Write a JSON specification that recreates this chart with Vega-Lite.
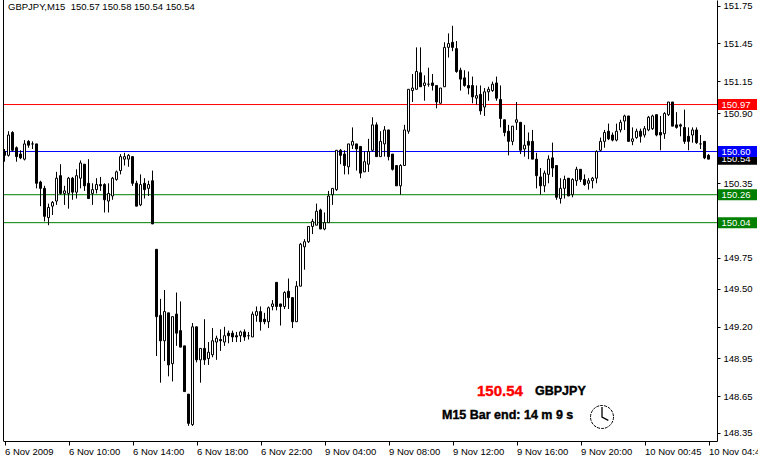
{"$schema":"https://vega.github.io/schema/vega-lite/v6.json","width":714,"height":441,"autosize":{"type":"none"},"padding":{"left":3,"top":0,"right":41,"bottom":17},"background":"white","view":{"stroke":null},
"config":{"axis":{"labelOverlap":false},"axisY":{"labelOverlap":false}},
"datasets":{
"levels":[{"level":"150.97","price":150.97,"kind":"upper"},{"level":"150.60","price":150.60,"kind":"pivot"},{"level":"150.26","price":150.26,"kind":"lower"},{"level":"150.04","price":150.04,"kind":"lower"}],
"closeFlag":[{"level":"150.54","price":150.54,"kind":"close"}],
"header":[{"bar":0.875,"price":151.738,"label":"GBPJPY,M15\u00a0\u00a0150.57 150.58 150.54 150.54"}],
"price":[{"bar":118.125,"price":148.715,"label":"150.54"}],
"sym":[{"bar":132.625,"price":148.715,"label":"GBPJPY"},{"bar":109.375,"price":148.526,"label":"M15 Bar end: 14 m 9 s"}],
"clock":[{"bar":149.375,"price":148.51}],
"candles":[
{"bar":0,"open":150.6,"high":150.62,"low":150.52,"close":150.57},
{"bar":1,"open":150.57,"high":150.76,"low":150.56,"close":150.73},
{"bar":2,"open":150.75,"high":150.76,"low":150.6,"close":150.61},
{"bar":3,"open":150.63,"high":150.64,"low":150.52,"close":150.56},
{"bar":4,"open":150.58,"high":150.61,"low":150.54,"close":150.55},
{"bar":5,"open":150.54,"high":150.69,"low":150.53,"close":150.66},
{"bar":6,"open":150.68,"high":150.69,"low":150.63,"close":150.65},
{"bar":7,"open":150.66,"high":150.68,"low":150.62,"close":150.66},
{"bar":8,"open":150.66,"high":150.66,"low":150.31,"close":150.35},
{"bar":9,"open":150.36,"high":150.37,"low":150.17,"close":150.31},
{"bar":10,"open":150.31,"high":150.33,"low":150.05,"close":150.09},
{"bar":11,"open":150.08,"high":150.19,"low":150.02,"close":150.16},
{"bar":12,"open":150.17,"high":150.21,"low":150.1,"close":150.2},
{"bar":13,"open":150.21,"high":150.44,"low":150.18,"close":150.39},
{"bar":14,"open":150.41,"high":150.5,"low":150.26,"close":150.27},
{"bar":15,"open":150.27,"high":150.33,"low":150.18,"close":150.29},
{"bar":16,"open":150.27,"high":150.4,"low":150.15,"close":150.39},
{"bar":17,"open":150.39,"high":150.4,"low":150.22,"close":150.28},
{"bar":18,"open":150.28,"high":150.46,"low":150.23,"close":150.41},
{"bar":19,"open":150.39,"high":150.53,"low":150.31,"close":150.51},
{"bar":20,"open":150.5,"high":150.5,"low":150.29,"close":150.33},
{"bar":21,"open":150.35,"high":150.54,"low":150.23,"close":150.23},
{"bar":22,"open":150.27,"high":150.35,"low":150.18,"close":150.3},
{"bar":23,"open":150.3,"high":150.39,"low":150.27,"close":150.34},
{"bar":24,"open":150.34,"high":150.4,"low":150.29,"close":150.33},
{"bar":25,"open":150.34,"high":150.35,"low":150.12,"close":150.22},
{"bar":26,"open":150.21,"high":150.35,"low":150.12,"close":150.27},
{"bar":27,"open":150.25,"high":150.4,"low":150.22,"close":150.39},
{"bar":28,"open":150.38,"high":150.45,"low":150.37,"close":150.44},
{"bar":29,"open":150.45,"high":150.58,"low":150.42,"close":150.56},
{"bar":30,"open":150.54,"high":150.59,"low":150.49,"close":150.56},
{"bar":31,"open":150.54,"high":150.58,"low":150.48,"close":150.57},
{"bar":32,"open":150.56,"high":150.56,"low":150.33,"close":150.35},
{"bar":33,"open":150.35,"high":150.37,"low":150.17,"close":150.17},
{"bar":34,"open":150.18,"high":150.42,"low":150.17,"close":150.34},
{"bar":35,"open":150.35,"high":150.39,"low":150.23,"close":150.3},
{"bar":36,"open":150.31,"high":150.37,"low":150.25,"close":150.34},
{"bar":37,"open":150.37,"high":150.45,"low":150.03,"close":150.03},
{"bar":38,"open":149.83,"high":149.83,"low":148.99,"close":149.3},
{"bar":39,"open":149.31,"high":149.44,"low":148.78,"close":149.11},
{"bar":40,"open":149.11,"high":149.51,"low":148.95,"close":149.34},
{"bar":41,"open":149.33,"high":149.33,"low":148.83,"close":148.92},
{"bar":42,"open":148.93,"high":149.3,"low":148.79,"close":149.3},
{"bar":43,"open":149.32,"high":149.49,"low":149.07,"close":149.17},
{"bar":44,"open":149.19,"high":149.42,"low":149.06,"close":149.06},
{"bar":45,"open":149.07,"high":149.07,"low":148.71,"close":148.71},
{"bar":46,"open":148.69,"high":148.69,"low":148.44,"close":148.46},
{"bar":47,"open":148.45,"high":149.25,"low":148.44,"close":149.22},
{"bar":48,"open":149.22,"high":149.22,"low":148.94,"close":148.96},
{"bar":49,"open":148.96,"high":149.05,"low":148.78,"close":149.05},
{"bar":50,"open":149.05,"high":149.28,"low":148.92,"close":148.96},
{"bar":51,"open":148.97,"high":149.1,"low":148.92,"close":149.02},
{"bar":52,"open":149.0,"high":149.21,"low":148.98,"close":149.11},
{"bar":53,"open":149.1,"high":149.15,"low":148.96,"close":149.13},
{"bar":54,"open":149.12,"high":149.2,"low":149.03,"close":149.11},
{"bar":55,"open":149.1,"high":149.22,"low":149.07,"close":149.15},
{"bar":56,"open":149.17,"high":149.19,"low":149.09,"close":149.15},
{"bar":57,"open":149.17,"high":149.19,"low":149.1,"close":149.14},
{"bar":58,"open":149.15,"high":149.18,"low":149.1,"close":149.14},
{"bar":59,"open":149.15,"high":149.19,"low":149.1,"close":149.18},
{"bar":60,"open":149.18,"high":149.2,"low":149.11,"close":149.14},
{"bar":61,"open":149.15,"high":149.18,"low":149.12,"close":149.15},
{"bar":62,"open":149.14,"high":149.34,"low":149.14,"close":149.32},
{"bar":63,"open":149.31,"high":149.38,"low":149.26,"close":149.34},
{"bar":64,"open":149.34,"high":149.38,"low":149.19,"close":149.26},
{"bar":65,"open":149.28,"high":149.33,"low":149.24,"close":149.26},
{"bar":66,"open":149.26,"high":149.38,"low":149.21,"close":149.37},
{"bar":67,"open":149.38,"high":149.43,"low":149.35,"close":149.4},
{"bar":68,"open":149.57,"high":149.57,"low":149.35,"close":149.38},
{"bar":69,"open":149.4,"high":149.4,"low":149.23,"close":149.38},
{"bar":70,"open":149.38,"high":149.5,"low":149.36,"close":149.49},
{"bar":71,"open":149.5,"high":149.6,"low":149.36,"close":149.45},
{"bar":72,"open":149.45,"high":149.45,"low":149.21,"close":149.26},
{"bar":73,"open":149.26,"high":149.58,"low":149.26,"close":149.54},
{"bar":74,"open":149.54,"high":149.88,"low":149.54,"close":149.87},
{"bar":75,"open":149.85,"high":149.91,"low":149.67,"close":149.89},
{"bar":76,"open":149.89,"high":150.01,"low":149.88,"close":150.01},
{"bar":77,"open":150.01,"high":150.07,"low":149.95,"close":150.05},
{"bar":78,"open":150.02,"high":150.19,"low":150.02,"close":150.13},
{"bar":79,"open":150.14,"high":150.15,"low":149.99,"close":149.99},
{"bar":80,"open":149.99,"high":150.12,"low":149.98,"close":150.04},
{"bar":81,"open":150.04,"high":150.29,"low":150.04,"close":150.25},
{"bar":82,"open":150.26,"high":150.31,"low":150.18,"close":150.31},
{"bar":83,"open":150.3,"high":150.61,"low":150.29,"close":150.61},
{"bar":84,"open":150.61,"high":150.62,"low":150.5,"close":150.57},
{"bar":85,"open":150.58,"high":150.61,"low":150.42,"close":150.49},
{"bar":86,"open":150.48,"high":150.66,"low":150.42,"close":150.66},
{"bar":87,"open":150.65,"high":150.79,"low":150.62,"close":150.68},
{"bar":88,"open":150.66,"high":150.66,"low":150.45,"close":150.62},
{"bar":89,"open":150.64,"high":150.64,"low":150.39,"close":150.43},
{"bar":90,"open":150.44,"high":150.6,"low":150.44,"close":150.52},
{"bar":91,"open":150.5,"high":150.7,"low":150.44,"close":150.6},
{"bar":92,"open":150.61,"high":150.87,"low":150.6,"close":150.81},
{"bar":93,"open":150.81,"high":150.83,"low":150.56,"close":150.56},
{"bar":94,"open":150.56,"high":150.76,"low":150.56,"close":150.68},
{"bar":95,"open":150.66,"high":150.8,"low":150.56,"close":150.77},
{"bar":96,"open":150.77,"high":150.77,"low":150.53,"close":150.56},
{"bar":97,"open":150.58,"high":150.58,"low":150.45,"close":150.46},
{"bar":98,"open":150.49,"high":150.49,"low":150.33,"close":150.33},
{"bar":99,"open":150.33,"high":150.5,"low":150.26,"close":150.49},
{"bar":100,"open":150.49,"high":150.81,"low":150.49,"close":150.77},
{"bar":101,"open":150.76,"high":151.09,"low":150.74,"close":151.09},
{"bar":102,"open":151.08,"high":151.21,"low":150.99,"close":151.1},
{"bar":103,"open":151.09,"high":151.42,"low":151.09,"close":151.23},
{"bar":104,"open":151.22,"high":151.42,"low":151.11,"close":151.11},
{"bar":105,"open":151.12,"high":151.2,"low":151.0,"close":151.14},
{"bar":106,"open":151.13,"high":151.26,"low":151.11,"close":151.13},
{"bar":107,"open":151.14,"high":151.21,"low":151.08,"close":151.12},
{"bar":108,"open":151.12,"high":151.12,"low":150.94,"close":150.99},
{"bar":109,"open":150.98,"high":151.1,"low":150.98,"close":151.1},
{"bar":110,"open":151.11,"high":151.46,"low":151.11,"close":151.42},
{"bar":111,"open":151.42,"high":151.53,"low":151.34,"close":151.45},
{"bar":112,"open":151.46,"high":151.59,"low":151.39,"close":151.42},
{"bar":113,"open":151.41,"high":151.47,"low":151.22,"close":151.23},
{"bar":114,"open":151.24,"high":151.26,"low":151.08,"close":151.17},
{"bar":115,"open":151.18,"high":151.24,"low":151.11,"close":151.12},
{"bar":116,"open":151.12,"high":151.23,"low":151.05,"close":151.1},
{"bar":117,"open":151.12,"high":151.19,"low":150.98,"close":151.03},
{"bar":118,"open":151.02,"high":151.12,"low":150.97,"close":151.04},
{"bar":119,"open":151.05,"high":151.12,"low":150.89,"close":150.92},
{"bar":120,"open":150.95,"high":151.1,"low":150.88,"close":151.07},
{"bar":121,"open":151.07,"high":151.11,"low":151.0,"close":151.09},
{"bar":122,"open":151.08,"high":151.15,"low":151.07,"close":151.13},
{"bar":123,"open":151.14,"high":151.19,"low":151.0,"close":151.02},
{"bar":124,"open":151.01,"high":151.12,"low":150.79,"close":150.86},
{"bar":125,"open":150.85,"high":150.85,"low":150.72,"close":150.75},
{"bar":126,"open":150.76,"high":150.81,"low":150.57,"close":150.68},
{"bar":127,"open":150.68,"high":150.8,"low":150.65,"close":150.8},
{"bar":128,"open":150.83,"high":150.99,"low":150.77,"close":150.85},
{"bar":129,"open":150.83,"high":150.83,"low":150.58,"close":150.61},
{"bar":130,"open":150.62,"high":150.81,"low":150.56,"close":150.65},
{"bar":131,"open":150.68,"high":150.75,"low":150.54,"close":150.65},
{"bar":132,"open":150.68,"high":150.77,"low":150.54,"close":150.54},
{"bar":133,"open":150.54,"high":150.59,"low":150.31,"close":150.41},
{"bar":134,"open":150.4,"high":150.47,"low":150.26,"close":150.33},
{"bar":135,"open":150.33,"high":150.45,"low":150.28,"close":150.43},
{"bar":136,"open":150.42,"high":150.57,"low":150.35,"close":150.54},
{"bar":137,"open":150.55,"high":150.67,"low":150.4,"close":150.47},
{"bar":138,"open":150.49,"high":150.49,"low":150.22,"close":150.24},
{"bar":139,"open":150.23,"high":150.39,"low":150.19,"close":150.31},
{"bar":140,"open":150.31,"high":150.41,"low":150.23,"close":150.38},
{"bar":141,"open":150.39,"high":150.39,"low":150.25,"close":150.25},
{"bar":142,"open":150.26,"high":150.39,"low":150.24,"close":150.38},
{"bar":143,"open":150.37,"high":150.48,"low":150.33,"close":150.46},
{"bar":144,"open":150.46,"high":150.46,"low":150.36,"close":150.38},
{"bar":145,"open":150.38,"high":150.42,"low":150.33,"close":150.34},
{"bar":146,"open":150.35,"high":150.39,"low":150.3,"close":150.37},
{"bar":147,"open":150.37,"high":150.4,"low":150.31,"close":150.39},
{"bar":148,"open":150.39,"high":150.61,"low":150.35,"close":150.6},
{"bar":149,"open":150.61,"high":150.71,"low":150.6,"close":150.68},
{"bar":150,"open":150.68,"high":150.77,"low":150.63,"close":150.75},
{"bar":151,"open":150.76,"high":150.82,"low":150.69,"close":150.7},
{"bar":152,"open":150.73,"high":150.75,"low":150.68,"close":150.69},
{"bar":153,"open":150.69,"high":150.82,"low":150.68,"close":150.76},
{"bar":154,"open":150.77,"high":150.85,"low":150.75,"close":150.83},
{"bar":155,"open":150.84,"high":150.89,"low":150.77,"close":150.88},
{"bar":156,"open":150.88,"high":150.88,"low":150.68,"close":150.68},
{"bar":157,"open":150.68,"high":150.79,"low":150.65,"close":150.7},
{"bar":158,"open":150.71,"high":150.78,"low":150.7,"close":150.76},
{"bar":159,"open":150.76,"high":150.78,"low":150.67,"close":150.72},
{"bar":160,"open":150.73,"high":150.8,"low":150.71,"close":150.78},
{"bar":161,"open":150.77,"high":150.88,"low":150.76,"close":150.87},
{"bar":162,"open":150.78,"high":150.89,"low":150.77,"close":150.88},
{"bar":163,"open":150.89,"high":150.89,"low":150.72,"close":150.73},
{"bar":164,"open":150.75,"high":150.88,"low":150.61,"close":150.73},
{"bar":165,"open":150.74,"high":150.91,"low":150.7,"close":150.9},
{"bar":166,"open":150.89,"high":150.99,"low":150.88,"close":150.99},
{"bar":167,"open":150.99,"high":150.99,"low":150.8,"close":150.8},
{"bar":168,"open":150.81,"high":150.91,"low":150.78,"close":150.79},
{"bar":169,"open":150.81,"high":150.82,"low":150.72,"close":150.8},
{"bar":170,"open":150.79,"high":150.93,"low":150.66,"close":150.68},
{"bar":171,"open":150.72,"high":150.79,"low":150.61,"close":150.68},
{"bar":172,"open":150.73,"high":150.79,"low":150.67,"close":150.77},
{"bar":173,"open":150.77,"high":150.79,"low":150.66,"close":150.67},
{"bar":174,"open":150.66,"high":150.73,"low":150.62,"close":150.66},
{"bar":175,"open":150.68,"high":150.68,"low":150.54,"close":150.55},
{"bar":176,"open":150.57,"high":150.58,"low":150.54,"close":150.54}
]},
"layer":[
{"data":{"name":"levels"},"mark":{"type":"rule","strokeWidth":1},
"encoding":{"y":{"field":"price","type":"quantitative","scale":{"domain":[148.321,151.793],"nice":false,"zero":false,"padding":0},
"axis":{"orient":"right","title":null,"grid":false,"values":[151.746,151.454,151.155,150.903,150.352,149.762,149.518,149.222,148.972,148.672,148.384],"labelExpr":"datum.value<148.4?'148.35':format(round(datum.value*20)/20,'.2f')","tickSize":3,"tickColor":"#000","domainColor":"#000","labelColor":"#000","labelFont":"Liberation Sans","labelFontSize":9.5,"labelPadding":3,"labelOverlap":false}},
"color":{"field":"kind","type":"nominal","legend":null,"scale":{"domain":["upper","pivot","lower","close"],"range":["#ff0000","#0000ff","#008000","#000000"]}}}},
{"data":{"name":"candles"},"mark":{"type":"rule","strokeWidth":1,"color":"#000"},
"encoding":{"x":{"field":"bar","type":"quantitative","scale":{"domain":[-0.375,178.125],"nice":false,"zero":false,"padding":0},
"axis":{"title":null,"grid":false,"orient":"bottom","values":[0,16,32,48,64,80,96,112,128,144,160,176],"labelExpr":"['6 Nov 2009','6 Nov 10:00','6 Nov 14:00','6 Nov 18:00','6 Nov 22:00','9 Nov 04:00','9 Nov 08:00','9 Nov 12:00','9 Nov 16:00','9 Nov 20:00','10 Nov 00:45','10 Nov 04:45'][datum.value/16]","labelAlign":"left","labelPadding":1,"tickSize":4,"tickColor":"#000","domainColor":"#000","labelColor":"#000","labelFont":"Liberation Sans","labelFontSize":9.5,"labelOverlap":false,"labelFlush":false,"labelBound":false}},
"y":{"field":"low","type":"quantitative","scale":{"domain":[148.321,151.793],"nice":false,"zero":false,"padding":0}},"y2":{"field":"high"}}},
{"data":{"name":"candles"},"mark":{"type":"bar","width":2,"stroke":"#000","strokeWidth":1},
"encoding":{"x":{"field":"bar","type":"quantitative","scale":{"domain":[-0.375,178.125],"nice":false,"zero":false,"padding":0}},
"y":{"field":"open","type":"quantitative","scale":{"domain":[148.321,151.793],"nice":false,"zero":false,"padding":0}},"y2":{"field":"close"},
"fill":{"condition":{"test":"datum.close<datum.open","value":"#000"},"value":"#fff"}}},
{"mark":{"type":"rule","strokeWidth":1,"color":"#000"},"data":{"values":[{"edge":-0.25}]},"encoding":{"x":{"field":"edge","type":"quantitative","scale":{"domain":[-0.375,178.125],"nice":false,"zero":false,"padding":0}}}},
{"data":{"name":"closeFlag"},"mark":{"type":"rule","strokeWidth":11,"color":"#000"},"encoding":{"x":{"datum":178.375,"scale":{"domain":[-0.375,178.125],"nice":false,"zero":false,"padding":0}},"x2":{"datum":188.125},"y":{"field":"price","type":"quantitative","scale":{"domain":[148.321,151.793],"nice":false,"zero":false,"padding":0}}}},
{"data":{"name":"closeFlag"},"mark":{"type":"text","color":"#fff","align":"left","baseline":"middle","font":"Liberation Sans","fontSize":9.5},"encoding":{"x":{"datum":179.25,"scale":{"domain":[-0.375,178.125],"nice":false,"zero":false,"padding":0}},"y":{"field":"price","type":"quantitative","scale":{"domain":[148.321,151.793],"nice":false,"zero":false,"padding":0}},"text":{"field":"level"}}},
{"data":{"name":"levels"},"mark":{"type":"rule","strokeWidth":11},"encoding":{"x":{"datum":178.375,"scale":{"domain":[-0.375,178.125],"nice":false,"zero":false,"padding":0}},"x2":{"datum":188.125},"y":{"field":"price","type":"quantitative","scale":{"domain":[148.321,151.793],"nice":false,"zero":false,"padding":0}},"color":{"field":"kind","type":"nominal","legend":null,"scale":{"domain":["upper","pivot","lower","close"],"range":["#ff0000","#0000ff","#008000","#000000"]}}}},
{"data":{"name":"levels"},"mark":{"type":"text","color":"#fff","align":"left","baseline":"middle","font":"Liberation Sans","fontSize":9.5},"encoding":{"x":{"datum":179.25,"scale":{"domain":[-0.375,178.125],"nice":false,"zero":false,"padding":0}},"y":{"field":"price","type":"quantitative","scale":{"domain":[148.321,151.793],"nice":false,"zero":false,"padding":0}},"text":{"field":"level"}}},
{"data":{"name":"header"},"mark":{"type":"text","color":"#000","align":"left","baseline":"middle","font":"Liberation Sans","fontSize":9.5},"encoding":{"x":{"field":"bar","type":"quantitative","scale":{"domain":[-0.375,178.125],"nice":false,"zero":false,"padding":0}},"y":{"field":"price","type":"quantitative","scale":{"domain":[148.321,151.793],"nice":false,"zero":false,"padding":0}},"text":{"field":"label"}}},
{"data":{"name":"price"},"mark":{"type":"text","color":"#ff0000","stroke":"#ff0000","strokeWidth":0.4,"align":"left","baseline":"middle","font":"Liberation Sans","fontWeight":"bold","fontSize":15},"encoding":{"x":{"field":"bar","type":"quantitative","scale":{"domain":[-0.375,178.125],"nice":false,"zero":false,"padding":0}},"y":{"field":"price","type":"quantitative","scale":{"domain":[148.321,151.793],"nice":false,"zero":false,"padding":0}},"text":{"field":"label"}}},
{"data":{"name":"sym"},"mark":{"type":"text","color":"#000","stroke":"#000","strokeWidth":0.4,"align":"left","baseline":"middle","font":"Liberation Sans","fontWeight":"bold","fontSize":12.5},"encoding":{"x":{"field":"bar","type":"quantitative","scale":{"domain":[-0.375,178.125],"nice":false,"zero":false,"padding":0}},"y":{"field":"price","type":"quantitative","scale":{"domain":[148.321,151.793],"nice":false,"zero":false,"padding":0}},"text":{"field":"label"}}},
{"data":{"name":"clock"},"mark":{"type":"point","shape":"circle","size":529,"filled":false,"stroke":"#000","strokeWidth":1,"strokeDash":[3,1],"opacity":1},"encoding":{"x":{"field":"bar","type":"quantitative","scale":{"domain":[-0.375,178.125],"nice":false,"zero":false,"padding":0}},"y":{"field":"price","type":"quantitative","scale":{"domain":[148.321,151.793],"nice":false,"zero":false,"padding":0}}}},
{"data":{"name":"clock"},"mark":{"type":"point","shape":"M0,-0.87L0,0L0.55,0.3","size":529,"filled":false,"stroke":"#000","strokeWidth":1.3,"opacity":1},"encoding":{"x":{"field":"bar","type":"quantitative","scale":{"domain":[-0.375,178.125],"nice":false,"zero":false,"padding":0}},"y":{"field":"price","type":"quantitative","scale":{"domain":[148.321,151.793],"nice":false,"zero":false,"padding":0}}}}
]}
